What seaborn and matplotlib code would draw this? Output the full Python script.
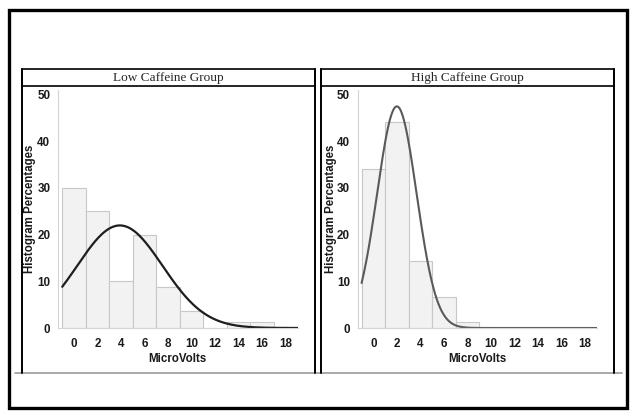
import matplotlib
matplotlib.use('Agg')
import matplotlib.pyplot as plt
from matplotlib.patches import Rectangle
from matplotlib.lines import Line2D
import numpy as np
import pandas as pd
import seaborn as sns

# histogram percentages per 2-microvolt bin (bin centres 0, 2, ..., 18)
bin_centres = [0, 2, 4, 6, 8, 10, 12, 14, 16, 18]
low_pct = [30, 25, 10, 20, 8.75, 3.75, 0, 1.25, 1.25, 0]
high_pct = [34, 44.2, 14.4, 6.6, 1.2, 0, 0, 0, 0, 0]

# fitted normal curves (mean, sd)
low_fit = (3.9, 3.63)
high_fit = (2.0, 1.68)

groups = ['Low Caffeine Group', 'High Caffeine Group']
x_ticks = [0, 2, 4, 6, 8, 10, 12, 14, 16, 18]
y_ticks = [0, 10, 20, 30, 40, 50]

sns.set_style("white")
plt.rcParams['font.family'] = ['Liberation Sans', 'DejaVu Sans']

W, H = 638, 419
fig = plt.figure(figsize=(W / 100, H / 100), dpi=100)

def px_rect(x0, y0, x1, y1, **kw):
    # rectangle given in pixel coords measured from top-left
    return Rectangle((x0 / W, 1 - y1 / H), (x1 - x0) / W, (y1 - y0) / H,
                     transform=fig.transFigure, fill=False, **kw)

def px_line(x0, y0, x1, y1, **kw):
    return Line2D([x0 / W, x1 / W], [1 - y0 / H, 1 - y1 / H],
                  transform=fig.transFigure, **kw)

# outer frame
fig.patches.append(px_rect(9, 10, 627, 408, lw=2.4, edgecolor='black'))
# gray bottom line under both panels
fig.lines.append(px_line(15, 373, 622, 373, lw=1.2, color='#999999'))

panels = [(22, 315, 58, -1.36, low_pct, low_fit, '#1e1e1e', 1.6, 30),
          (321, 614, 357.7, -1.33, high_pct, high_fit, '#5a5a5a', 1.5, 331.5)]

for (px0, px1, ax_left, xmin, pct, fit, ccol, clw, ylab_x), title in zip(panels, groups):
    # panel sides and header box
    fig.lines.append(px_line(px0, 69, px0, 373, lw=1.4, color='black'))
    fig.lines.append(px_line(px1, 69, px1, 373, lw=1.4, color='black'))
    fig.patches.append(px_rect(px0, 69, px1, 86, lw=1.2, edgecolor='black'))
    fig.text((px0 + px1) / 2 / W, 1 - 77.5 / H, title, ha='center', va='center',
             fontsize=9.5, family=['Liberation Serif', 'DejaVu Serif'])

    width_px = 239.5
    ax = fig.add_axes([ax_left / W, (H - 328) / H, width_px / W, 238 / H])
    df = pd.DataFrame({'mv': bin_centres, 'pct': pct})
    sns.histplot(data=df, x='mv', weights='pct', binwidth=2, binrange=(-1, 19),
                 stat='count', ax=ax, color='#f2f2f2', edgecolor='#c8c8c8',
                 linewidth=0.8, alpha=1)

    mu, sd = fit
    xs = np.linspace(-1, 19, 300)
    ys = 200 / (sd * np.sqrt(2 * np.pi)) * np.exp(-0.5 * ((xs - mu) / sd) ** 2)
    sns.lineplot(x=xs, y=ys, ax=ax, color=ccol, lw=clw)

    ax.set_xlim(xmin, xmin + width_px / 11.76)
    ax.set_ylim(0, 51)
    ax.set_xticks(x_ticks)
    ax.set_yticks(y_ticks)
    ax.tick_params(axis='x', length=2, color='#cccccc', pad=5, labelsize=8.4)
    ax.tick_params(axis='y', length=0, pad=5.5, labelsize=8.4)
    for lab in ax.get_xticklabels() + ax.get_yticklabels():
        lab.set_fontweight('bold')
        lab.set_color('#1a1a1a')
    ax.set_xlabel('MicroVolts', fontsize=8.3, fontweight='bold', color='#1a1a1a')
    ax.set_ylabel('Histogram Percentages', fontsize=8.3, fontweight='bold', color='#1a1a1a')
    # label anchors: right edge of rotated y label, top of x label
    ax.yaxis.set_label_coords((ylab_x + 5.5 - ax_left) / width_px, 0.5)
    ax.xaxis.set_label_coords(0.5, -(352.5 - 328) / 238)
    for s in ['top', 'right']:
        ax.spines[s].set_visible(False)
    for s in ['left', 'bottom']:
        ax.spines[s].set_color('#d4d4d4')
        ax.spines[s].set_linewidth(0.8)
    ax.patch.set_alpha(0)

plt.savefig('out.png', dpi=100)
